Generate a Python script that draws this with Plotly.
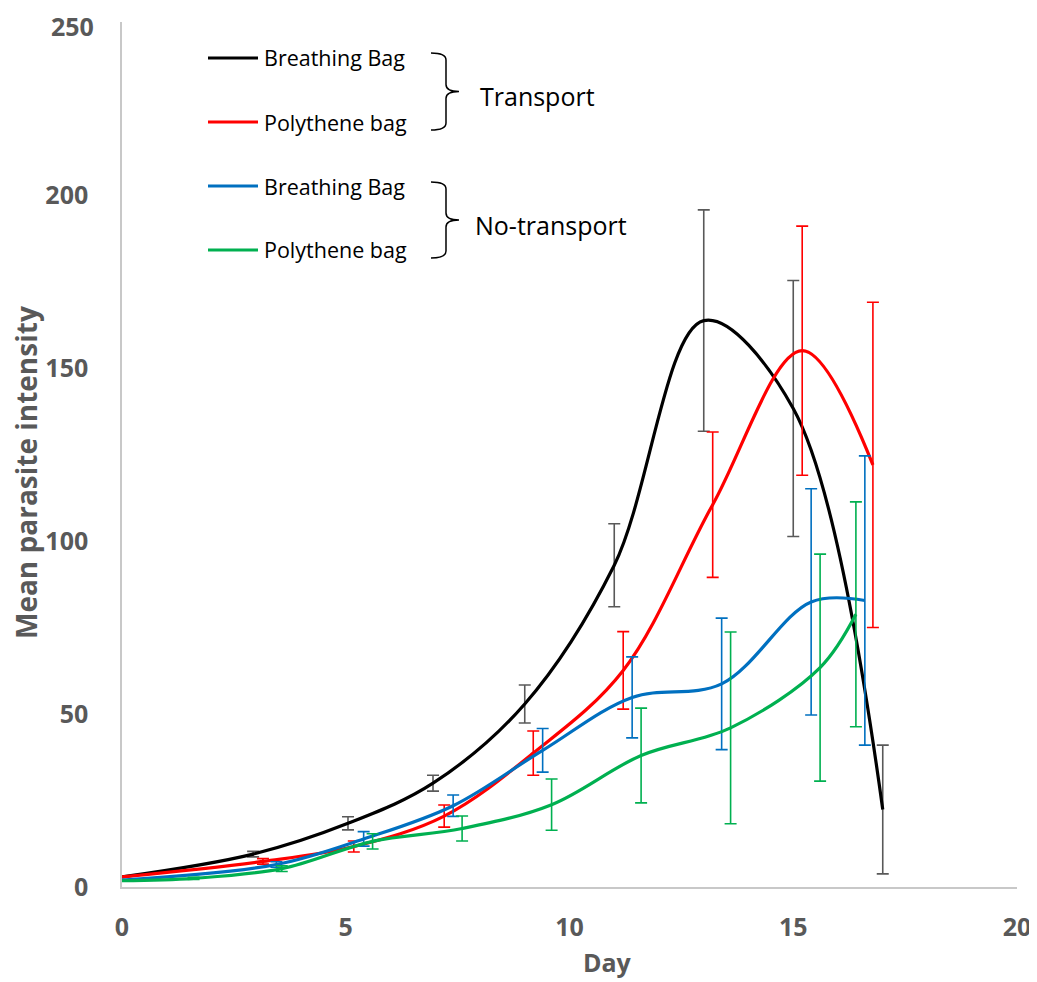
import plotly.graph_objects as go
import numpy as np

# ---- data ----
black_x = [0, 2.93, 5.05, 6.95, 9.0, 11.0, 13.0, 15.0, 17.0]
black_y = [2.9, 9.5, 18.4, 30.0, 52.9, 93.0, 163.7, 138.3, 22.4]
black_e = [None, 0.8, 1.9, 2.3, 5.5, 12.0, 32.0, 37.0, 18.6]

red_x = [0, 3.15, 5.18, 7.2, 9.19, 11.2, 13.2, 15.2, 16.78]
red_y = [2.9, 7.4, 11.7, 20.5, 38.7, 62.6, 110.5, 155.0, 122.0]
red_e = [None, 0.8, 1.6, 3.2, 6.4, 11.2, 21.0, 36.0, 47.0]

blue_x = [0, 3.45, 5.4, 7.4, 9.4, 11.4, 13.4, 15.4, 16.6]
blue_y = [2.0, 6.5, 13.9, 23.5, 39.5, 54.8, 58.7, 82.4, 82.8]
blue_e = [None, 0.8, 2.1, 3.1, 6.3, 11.7, 19.0, 32.7, 41.8]

green_x = [0, 1.6, 3.57, 5.6, 7.6, 9.6, 11.6, 13.6, 15.6, 16.4]
green_y = [1.8, 2.5, 5.3, 13.2, 16.9, 23.8, 38.0, 46.0, 63.4, 78.8]
green_e = [None, 0.3, 0.8, 2.2, 3.6, 7.4, 13.7, 27.7, 32.8, 32.5]

legend_labels = ["Breathing Bag", "Polythene bag", "Breathing Bag", "Polythene bag"]
group_labels = ["Transport", "No-transport"]
x_ticks = [0, 5, 10, 15, 20]
y_ticks = [0, 50, 100, 150, 200]
y_top_label = "250"
y_max = 250

# ---- layout geometry ----
W, H = 1029, 974
OX, OY = 8, 8  # page offset of the figure inside the screenshot

def fx(rx):
    return rx - OX

def fy(ry):
    return ry - OY

L = fx(122)
R = W - fx(1017)
T = fy(22)
B = H - fy(887)
PW, PH = W - L - R, H - T - B

def px(rx):
    return (fx(rx) - L) / PW

def py(ry):
    return (T + PH - fy(ry)) / PH

series = [
    (black_x, black_y, black_e, "#000000", "#595959"),
    (red_x, red_y, red_e, "#FF0000", "#FF0000"),
    (blue_x, blue_y, blue_e, "#0070C0", "#0070C0"),
    (green_x, green_y, green_e, "#00B050", "#00B050"),
]

fig = go.Figure()
for (xs, ys, es, lc, ec), name in zip(series, legend_labels):
    arr = [np.nan if e is None else e for e in es]
    fig.add_trace(go.Scatter(
        x=xs, y=ys, mode="lines", name=name,
        line=dict(color=lc, width=3.2, shape="spline", smoothing=1.0),
        error_y=dict(type="data", array=arr, symmetric=True,
                     color=ec, thickness=1.6, width=6),
        showlegend=False,
    ))

tick_font = dict(family="Open Sans", size=25, color="#595959", weight="bold")
title_font = dict(family="Open Sans", size=28, color="#595959", weight="bold")

fig.update_xaxes(range=[0, 20], tickvals=x_ticks, showgrid=False, zeroline=False,
                 showline=True, linecolor="#c8c8c8", linewidth=1.5,
                 ticks="", tickfont=tick_font, ticklabelstandoff=17,
                 ticklabeloverflow="allow", automargin=False)
fig.update_yaxes(range=[0, y_max], tickvals=y_ticks, showgrid=False, zeroline=False,
                 showline=True, linecolor="#c8c8c8", linewidth=1.5,
                 ticks="", tickfont=tick_font, ticklabelstandoff=27,
                 ticklabeloverflow="allow", automargin=False)

annotations = []
shapes = []

# top y tick label (kept inside the page)
annotations.append(dict(text=y_top_label, x=px(95), y=py(OY), xref="paper", yref="paper",
                        showarrow=False, font=tick_font, xanchor="right", yanchor="top",
                        borderpad=0))

# axis titles
annotations.append(dict(text="Day", x=px(607), y=py(962), xref="paper", yref="paper",
                        showarrow=False, font=tick_font, xanchor="center", yanchor="middle"))
annotations.append(dict(text="Mean parasite intensity", x=px(26), y=py(473),
                        xref="paper", yref="paper", showarrow=False, textangle=-90,
                        font=title_font, xanchor="center", yanchor="middle"))

# custom legend
leg_y = [58, 122, 186, 250]
leg_cols = ["#000000", "#FF0000", "#0070C0", "#00B050"]
for lab, yy, col in zip(legend_labels, leg_y, leg_cols):
    shapes.append(dict(type="line", xref="paper", yref="paper",
                       x0=px(208), x1=px(258), y0=py(yy), y1=py(yy),
                       line=dict(color=col, width=3)))
    annotations.append(dict(text=lab, x=px(262), y=py(yy), xref="paper", yref="paper",
                            showarrow=False, xanchor="left", yanchor="middle",
                            font=dict(family="Open Sans", size=21.5, color="#000000")))

def brace(top, bot):
    mid = (top + bot) / 2
    xl, xs, xt = 431, 446, 459
    pts = [
        ("M", xl, top), ("Q", xs, top), ("", xs, top + 7),
        ("L", xs, mid - 7), ("Q", xs, mid), ("", xt, mid),
        ("Q", xs, mid), ("", xs, mid + 7),
        ("L", xs, bot - 7), ("Q", xs, bot), ("", xl, bot),
    ]
    s = ""
    for cmd, x, y in pts:
        s += f"{cmd} {px(x):.5f},{py(y):.5f} "
    return s.strip()

for (top, bot), g, gx in zip([(53, 130), (182, 258)], group_labels, [478, 473]):
    shapes.append(dict(type="path", xref="paper", yref="paper", path=brace(top, bot),
                       line=dict(color="#000000", width=1.5)))
    annotations.append(dict(text=g, x=px(gx), y=py((top + bot) / 2 + 5), xref="paper", yref="paper",
                            showarrow=False, xanchor="left", yanchor="middle",
                            font=dict(family="Open Sans", size=25, color="#000000")))

fig.update_layout(
    width=W, height=H,
    margin=dict(l=L, r=R, t=T, b=B, autoexpand=False),
    plot_bgcolor="white", paper_bgcolor="white",
    annotations=annotations, shapes=shapes,
)

fig.write_html("out.html")
